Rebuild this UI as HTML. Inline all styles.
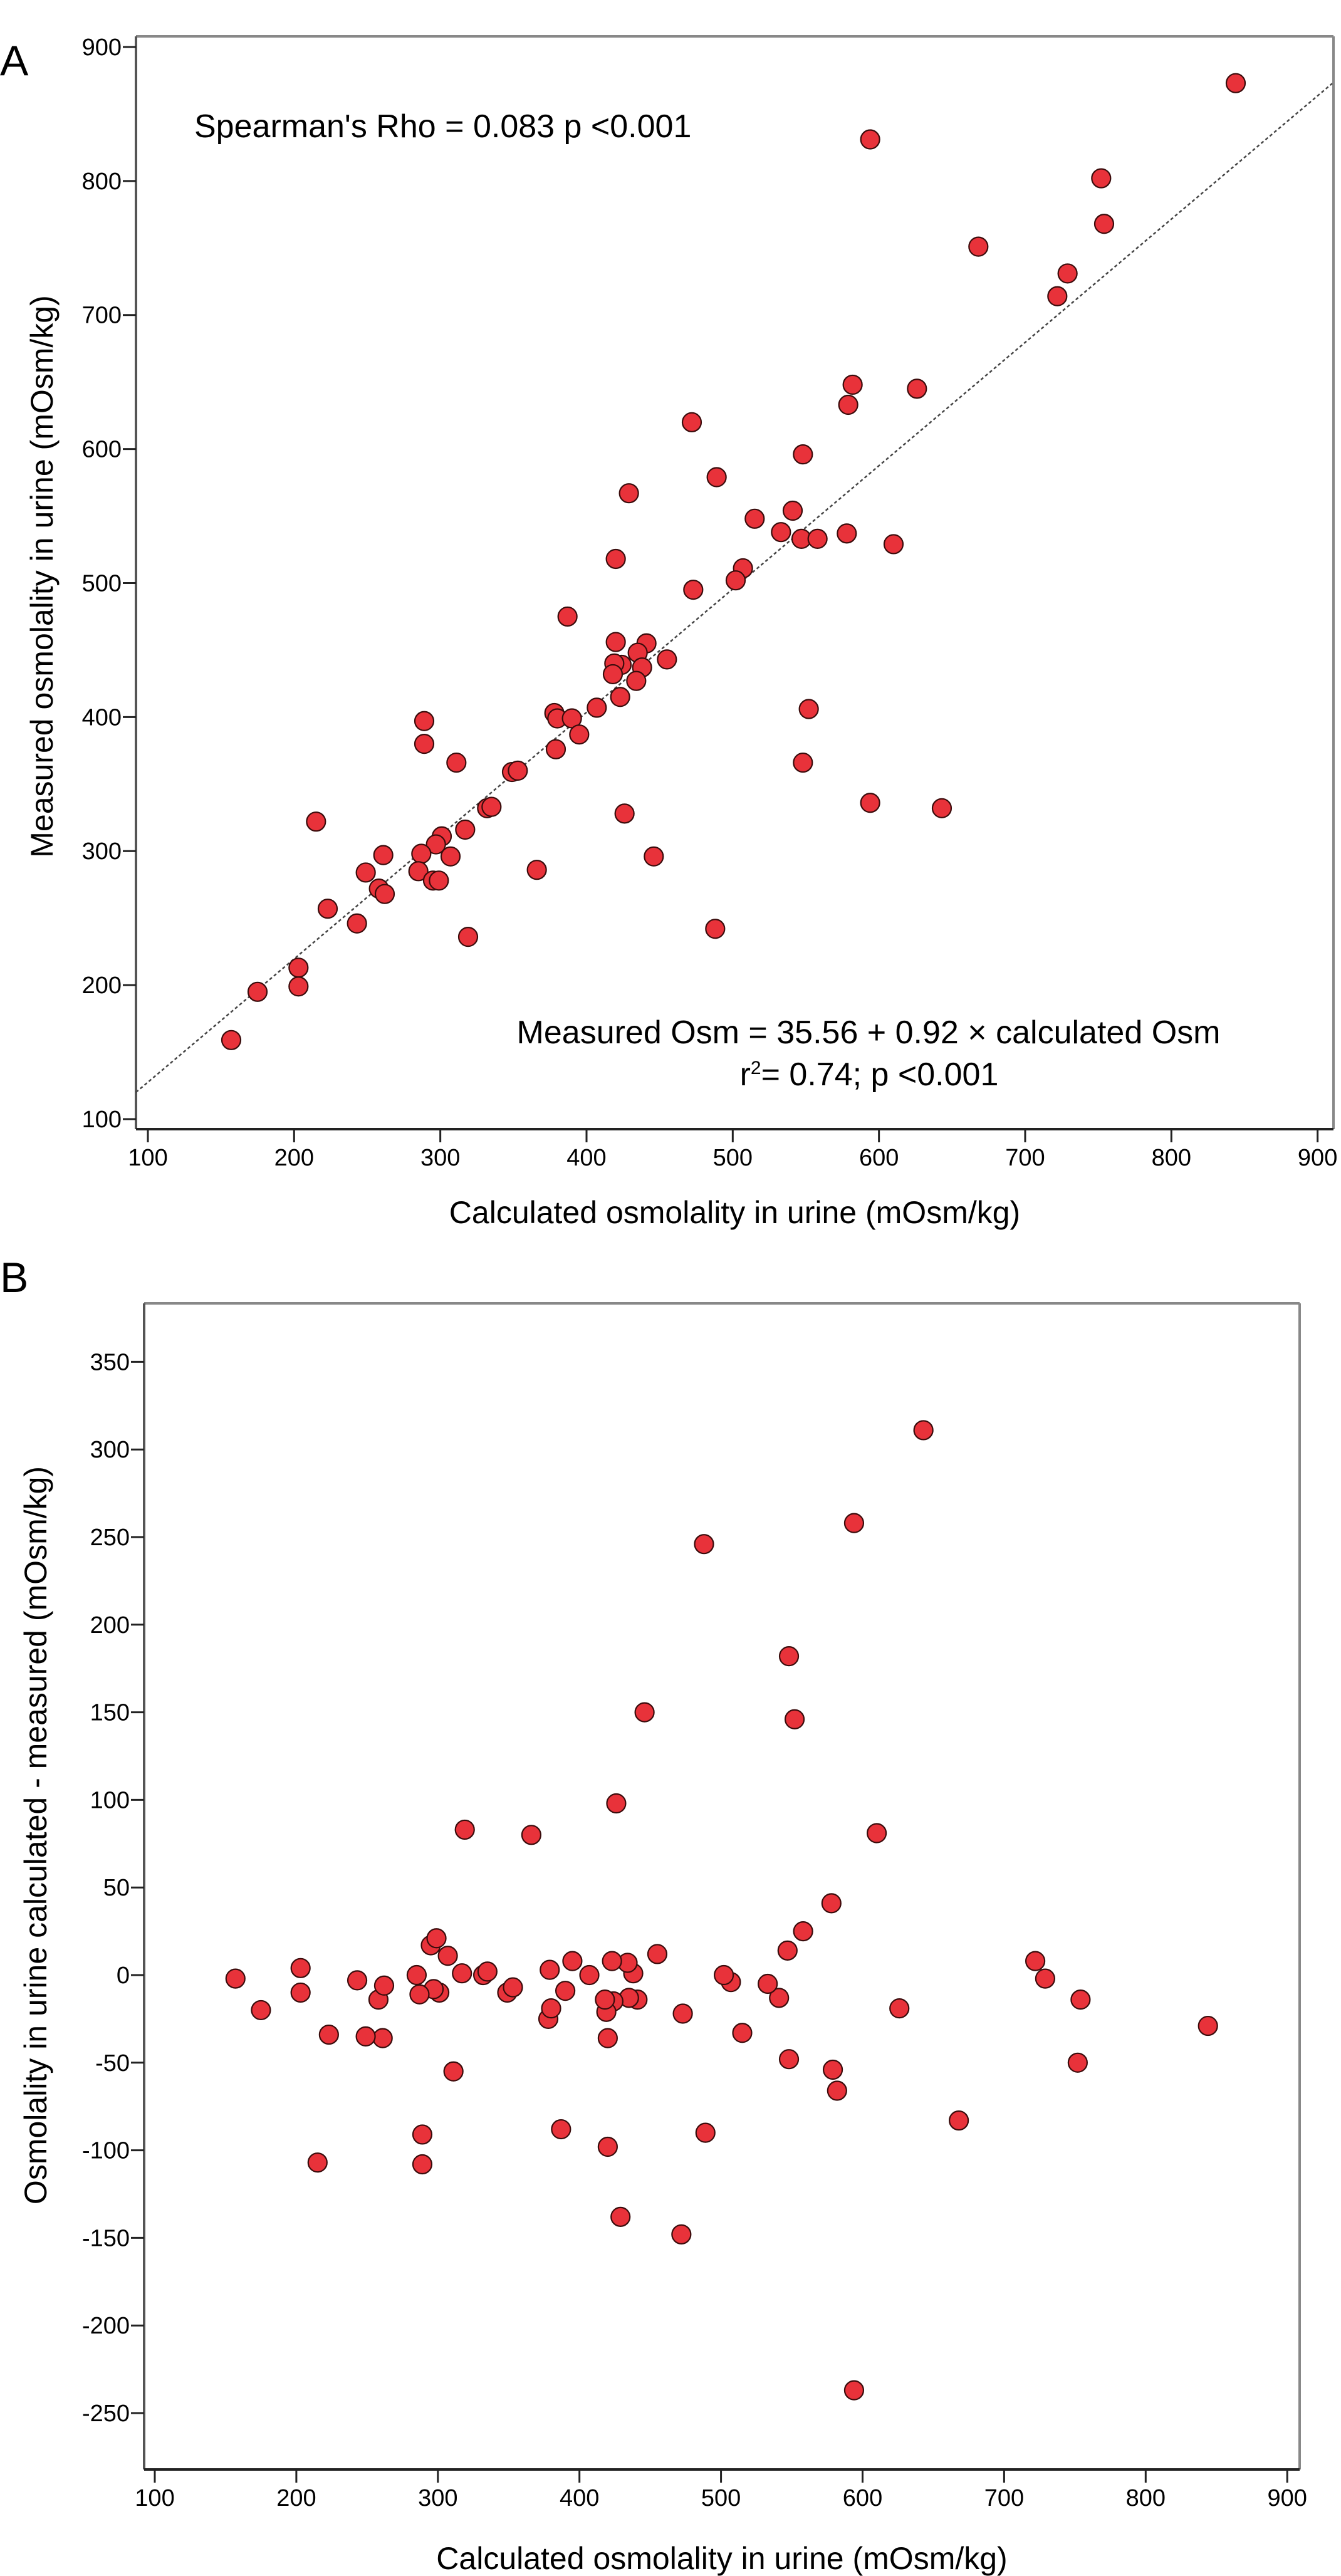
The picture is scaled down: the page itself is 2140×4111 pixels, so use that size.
<!DOCTYPE html>
<html><head><meta charset="utf-8"><style>
html,body{margin:0;padding:0;background:#fff}
svg{display:block}
text{font-family:"Liberation Sans",Arial,sans-serif;fill:#000}
</style></head><body>
<svg id="chart" width="2140" height="4111" xmlns="http://www.w3.org/2000/svg"></svg>
<script>
// Panel A data: calculated vs measured osmolality
const calcA = [844,594,752,754,668,729,722,582,579,626,472,548,489,429,515,541,533,547,558,578,610,420,507,502,473,387,420,441,455,435,424,419,418,438,434,423,407,552,378,380,390,395,379,289,289,311,548,349,353,594,643,332,335,215,426,317,301,297,287,261,307,446,249,285,366,295,299,258,262,223,243,319,488,203,203,175,157];
const measA = [873,831,802,768,751,731,714,648,633,645,620,596,579,567,548,554,538,533,533,537,529,518,511,502,495,475,456,455,443,448,439,440,432,437,427,415,407,406,403,399,399,387,376,397,380,366,366,359,360,336,332,332,333,322,328,316,311,305,298,297,296,296,284,285,286,278,278,272,268,257,246,236,242,213,199,195,159];
// Panel B data: calculated vs (calculated - measured)
const calcB = [844,594,752,754,668,729,722,582,579,626,472,548,489,429,515,541,533,547,558,578,610,420,507,502,473,387,420,441,455,435,424,419,418,438,434,423,407,552,378,380,390,395,379,289,289,311,548,349,353,594,643,332,335,215,426,317,301,297,287,261,307,446,249,285,366,295,299,258,262,223,243,319,488,203,203,175,157];
const diffB = [-29,-237,-50,-14,-83,-2,8,-66,-54,-19,-148,-48,-90,-138,-33,-13,-5,14,25,41,81,-98,-4,0,-22,-88,-36,-14,12,-13,-15,-21,-14,1,7,8,0,146,-25,-19,-9,8,3,-108,-91,-55,182,-10,-7,258,311,0,2,-107,98,1,-10,-8,-11,-36,11,150,-35,0,80,17,21,-14,-6,-34,-3,83,246,-10,4,-20,-2];
const xTicks = [100,200,300,400,500,600,700,800,900];
const yTicksA = [100,200,300,400,500,600,700,800,900];
const yTicksB = [-250,-200,-150,-100,-50,0,50,100,150,200,250,300,350];
const regIntercept = 35.56, regSlope = 0.92;

const svg = document.getElementById('chart');
const NS = 'http://www.w3.org/2000/svg';
function mk(tag, attrs, parent){
  const e = document.createElementNS(NS, tag);
  for (const k in attrs) e.setAttribute(k, attrs[k]);
  (parent||svg).appendChild(e);
  return e;
}
function txt(str, attrs, parent){ const t = mk('text', attrs, parent); t.textContent = str; return t; }

const xA = v => 236 + (v-100)*2.3333;
const yA = v => 1786 - (v-100)*2.1388;
const xB = v => 247 + (v-100)*2.259;
const yB = v => 3152 - v*2.796;

function panel(opts){
  const g = mk('g', {});
  
  
  const L=opts.L,R=opts.R,T=opts.T,B=opts.B;
  const lab = txt(opts.letter, {x:0,y:T+opts.letterY,'font-size':68}, g);
  
  
  const fr = mk('g', {}, g);
  
  
  mk('line',{x1:L,y1:T,x2:R,y2:T,stroke:'#888',"stroke-width":4},fr);
  mk('line',{x1:R,y1:T,x2:R,y2:B,stroke:'#888',"stroke-width":4},fr);
  mk('line',{x1:L,y1:T,x2:L,y2:B,stroke:'#555',"stroke-width":4},fr);
  mk('line',{x1:L,y1:B,x2:R,y2:B,stroke:'#222',"stroke-width":4},fr);
  const xa = mk('g', {}, g);
  
  
  xTicks.forEach(v=>{
    const x = opts.xs(v);
    mk('line',{x1:x,y1:B,x2:x,y2:B+21,stroke:'#222','stroke-width':3},xa);
    const t = txt(String(v),{x:x,y:B+58,'font-size':38,'text-anchor':'middle'},xa);
    
    
  });
  const xt = txt('Calculated osmolality in urine (mOsm/kg)',{x:(L+R)/2,y:opts.xTitleY,'font-size':50,'text-anchor':'middle'},g);
  
  
  const ya = mk('g', {}, g);
  
  
  opts.yTicks.forEach(v=>{
    const y = opts.ys(v);
    mk('line',{x1:L-21,y1:y,x2:L,y2:y,stroke:'#222','stroke-width':3},ya);
    const t = txt(String(v),{x:L-23,y:y+13,'font-size':38,'text-anchor':'end'},ya);
    
    
  });
  const yt = txt(opts.yTitle,{x:0,y:0,'font-size':50,'text-anchor':'middle',transform:`translate(${opts.yTitleX},${opts.yTitleCY}) rotate(-90)`},g);
  
  
  return g;
}

const gA = panel({name:'panel-a-scatter',letter:'A',letterY:62,L:217,R:2128,T:58,B:1802,xs:xA,ys:yA,yTicks:yTicksA,
  xTitleY:1952,yTitle:'Measured osmolality in urine (mOsm/kg)',yTitleX:84,yTitleCY:920});
const x0 = 91.8, x1 = 910;
const reg = mk('line',{x1:xA(x0),y1:yA(regIntercept+regSlope*x0),x2:xA(x1),y2:yA(regIntercept+regSlope*x1),stroke:'#444','stroke-width':2.5,'stroke-dasharray':'5,4'},gA);


const sp = txt("Spearman's Rho = 0.083 p <0.001",{x:310,y:219,'font-size':52},gA);


const eq = txt("Measured Osm = 35.56 + 0.92 × calculated Osm",{x:1386,y:1665,'font-size':52,'text-anchor':'middle'},gA);


const r2 = txt("",{x:1387,y:1732,'font-size':52,'text-anchor':'middle'},gA);


r2.innerHTML = 'r<tspan font-size="30" dy="-18">2</tspan><tspan dy="18">= 0.74; p &lt;0.001</tspan>';
const ptsA = mk('g',{},gA);


calcA.forEach((c,i)=>{
  const p = mk('circle',{cx:xA(c),cy:yA(measA[i]),r:15,fill:'#e8323a',stroke:'#3a0c0c','stroke-width':2.2},ptsA);
  
  
});

const gB = panel({name:'panel-b-difference',letter:'B',letterY:-18,L:230,R:2074,T:2080,B:3941,xs:xB,ys:yB,yTicks:yTicksB,
  xTitleY:4100,yTitle:'Osmolality in urine calculated - measured (mOsm/kg)',yTitleX:74,yTitleCY:2929});
const ptsB = mk('g',{},gB);


calcB.forEach((c,i)=>{
  const p = mk('circle',{cx:xB(c),cy:yB(diffB[i]),r:15,fill:'#e8323a',stroke:'#3a0c0c','stroke-width':2.2},ptsB);
  
  
});
</script>
</body></html>
